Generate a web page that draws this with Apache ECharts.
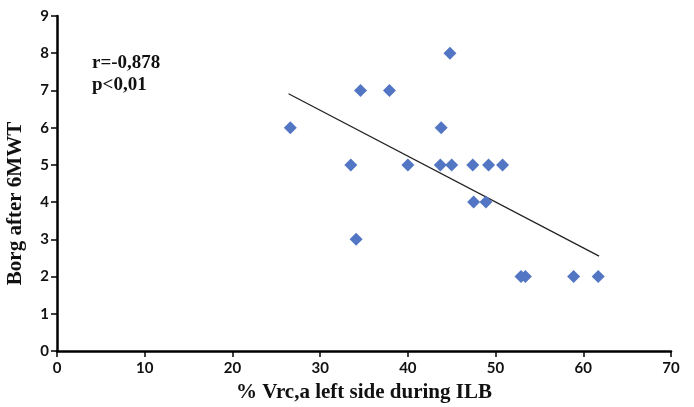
<!DOCTYPE html>
<html>
<head>
<meta charset="utf-8">
<script src="https://cdn.jsdelivr.net/npm/echarts@6/dist/echarts.min.js"></script>
<style>
html,body{margin:0;padding:0;background:#fff;}
#chart{width:694px;height:407px;}
</style>
</head>
<body>
<div id="chart"></div>
<script>
// Data
const xValues = [26.6, 34.6, 37.9, 33.5, 34.1, 40.0, 43.8, 44.8, 43.7, 45.0, 47.4, 49.2, 50.8, 47.5, 48.9, 52.9, 53.4, 58.9, 61.7];
const yValues = [6, 7, 7, 5, 3, 5, 6, 8, 5, 5, 5, 5, 5, 4, 4, 2, 2, 2, 2];
const trendX = [26.4, 61.8];
const trendY = [6.91, 2.55];
const xTicks = [0, 10, 20, 30, 40, 50, 60, 70];
const yTicks = [0, 1, 2, 3, 4, 5, 6, 7, 8, 9];
const xTitle = '% Vrc,a left side during ILB';
const yTitle = 'Borg after 6MWT';
const statText = ['r=-0,878', 'p<0,01'];

const points = xValues.map((x, i) => [x, yValues[i]]);
const trend = trendX.map((x, i) => [x, trendY[i]]);

const chart = echarts.init(document.getElementById('chart'), null, {renderer: 'canvas'});
const axisLabel = {color: '#111', fontFamily: 'Lato', fontWeight: 'bold', fontSize: 15};
chart.setOption({
  backgroundColor: '#fff',
  animation: false,
  grid: {left: 57, right: 23, top: 16, bottom: 56, containLabel: false, outerBoundsMode: 'none'},
  xAxis: {
    type: 'value', min: xTicks[0], max: xTicks[xTicks.length - 1], interval: 10,
    splitLine: {show: false},
    axisLine: {onZero: false, lineStyle: {color: '#000', width: 2.5}},
    axisTick: {show: true, length: 6, lineStyle: {color: '#000', width: 1.5}},
    axisLabel: Object.assign({margin: 10}, axisLabel),
    name: xTitle, nameLocation: 'middle', nameGap: 31,
    nameTextStyle: {fontFamily: 'Liberation Serif', fontWeight: 'bold', fontSize: 21, color: '#111'}
  },
  yAxis: {
    type: 'value', min: yTicks[0], max: yTicks[yTicks.length - 1], interval: 1,
    splitLine: {show: false},
    axisLine: {onZero: false, lineStyle: {color: '#000', width: 2.5}},
    axisTick: {show: true, length: 6, lineStyle: {color: '#000', width: 1.5}},
    axisLabel: Object.assign({margin: 8}, axisLabel),
    name: yTitle, nameLocation: 'middle', nameGap: 31, nameRotate: 90,
    nameTextStyle: {fontFamily: 'Liberation Serif', fontWeight: 'bold', fontSize: 21, color: '#111', padding: [0, 40, 0, 0]}
  },
  graphic: [
    {type: 'text', left: 92, top: 54, style: {text: statText[0], font: 'bold 19px "Liberation Serif"', fill: '#111'}},
    {type: 'text', left: 92, top: 76, style: {text: statText[1], font: 'bold 19px "Liberation Serif"', fill: '#111'}}
  ],
  series: [
    {
      type: 'line', data: trend, symbol: 'none', silent: true,
      lineStyle: {color: '#222', width: 1.3}, z: 1
    },
    {
      type: 'scatter', data: points, symbol: 'diamond', symbolSize: 13,
      itemStyle: {color: '#5376c4', opacity: 1}, z: 2
    }
  ]
});
</script>
</body>
</html>
